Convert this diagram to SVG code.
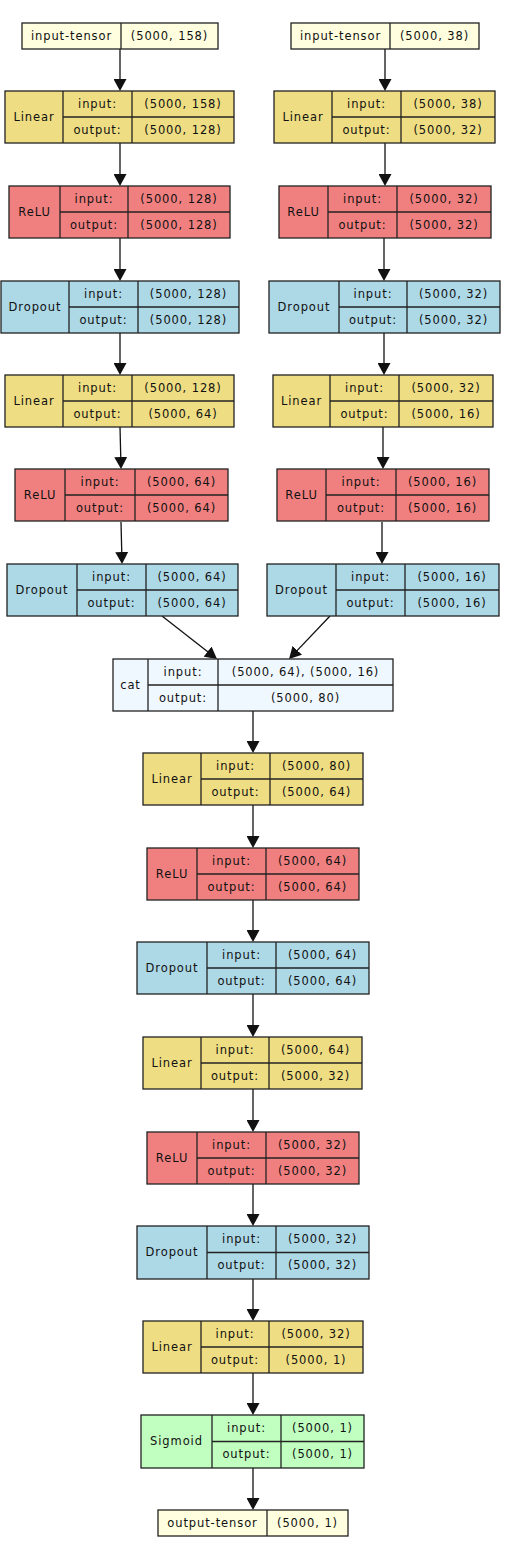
<svg xmlns="http://www.w3.org/2000/svg" width="507" height="1557" viewBox="0 0 507 1557">
<style>
rect{stroke:#222;stroke-width:1.3}
line.d{stroke:#222;stroke-width:1.3}
text{font-family:"DejaVu Sans","Verdana",sans-serif;font-size:11.5px;letter-spacing:0.9px;fill:#111;text-anchor:middle}
.lin{fill:#eedd82}.rel{fill:#f08080}.drp{fill:#add8e6}.cat{fill:#f0f8ff}.sig{fill:#c1ffc1}.ten{fill:#ffffe0}
.e{stroke:#111;stroke-width:1.3;fill:none}
</style>
<defs>
<marker id="ah" viewBox="0 0 12 13" refX="10" refY="6.5" markerWidth="12" markerHeight="13" markerUnits="userSpaceOnUse" orient="auto">
<path d="M0,0 L12,6.5 L0,13 z" fill="#111"/>
</marker>
</defs>

<g id="connectors">
<line class="e" x1="120" y1="49" x2="120" y2="89" marker-end="url(#ah)"/>
<line class="e" x1="120" y1="143" x2="120" y2="184" marker-end="url(#ah)"/>
<line class="e" x1="120" y1="238" x2="120" y2="279" marker-end="url(#ah)"/>
<line class="e" x1="120" y1="333" x2="120" y2="373" marker-end="url(#ah)"/>
<line class="e" x1="120" y1="427" x2="121" y2="467" marker-end="url(#ah)"/>
<line class="e" x1="121" y1="522" x2="122" y2="562" marker-end="url(#ah)"/>
<line class="e" x1="385" y1="49" x2="385" y2="89" marker-end="url(#ah)"/>
<line class="e" x1="385" y1="143" x2="385" y2="184" marker-end="url(#ah)"/>
<line class="e" x1="384" y1="238" x2="384" y2="279" marker-end="url(#ah)"/>
<line class="e" x1="384" y1="333" x2="384" y2="373" marker-end="url(#ah)"/>
<line class="e" x1="383" y1="427" x2="383" y2="467" marker-end="url(#ah)"/>
<line class="e" x1="382" y1="522" x2="382" y2="562" marker-end="url(#ah)"/>
<line class="e" x1="162" y1="616" x2="215.4" y2="657.8" marker-end="url(#ah)"/>
<line class="e" x1="330" y1="616" x2="290.4" y2="657.6" marker-end="url(#ah)"/>
<line class="e" x1="253" y1="711" x2="253" y2="751" marker-end="url(#ah)"/>
<line class="e" x1="253" y1="805" x2="253" y2="846" marker-end="url(#ah)"/>
<line class="e" x1="253" y1="900" x2="253" y2="940" marker-end="url(#ah)"/>
<line class="e" x1="253" y1="994" x2="253" y2="1035" marker-end="url(#ah)"/>
<line class="e" x1="253" y1="1089" x2="253" y2="1130" marker-end="url(#ah)"/>
<line class="e" x1="253" y1="1184" x2="253" y2="1224" marker-end="url(#ah)"/>
<line class="e" x1="253" y1="1279" x2="253" y2="1319" marker-end="url(#ah)"/>
<line class="e" x1="253" y1="1373" x2="253" y2="1413" marker-end="url(#ah)"/>
<line class="e" x1="253" y1="1468" x2="253" y2="1508" marker-end="url(#ah)"/>
</g>

<g id="in-tensor-left">
<rect class="ten" x="22" y="23" width="196" height="26"/>
<line class="d" x1="121" y1="23" x2="121" y2="49"/>
<text x="71.5" y="40">input-tensor</text><text x="169.5" y="40">(5000, 158)</text>
</g>
<g id="in-tensor-right">
<rect class="ten" x="291" y="23" width="188" height="26"/>
<line class="d" x1="390" y1="23" x2="390" y2="49"/>
<text x="340.5" y="40">input-tensor</text><text x="434.5" y="40">(5000, 38)</text>
</g>

<g id="linear-l1">
<rect class="lin" x="5" y="91" width="229" height="52"/>
<line class="d" x1="63" y1="91" x2="63" y2="143"/><line class="d" x1="132" y1="91" x2="132" y2="143"/><line class="d" x1="63" y1="117" x2="234" y2="117"/>
<text x="34" y="121">Linear</text><text x="97.5" y="108">input:</text><text x="183" y="108">(5000, 158)</text><text x="97.5" y="134">output:</text><text x="183" y="134">(5000, 128)</text>
</g>
<g id="relu-l1">
<rect class="rel" x="9" y="186" width="221" height="52"/>
<line class="d" x1="60" y1="186" x2="60" y2="238"/><line class="d" x1="128" y1="186" x2="128" y2="238"/><line class="d" x1="60" y1="212" x2="230" y2="212"/>
<text x="34.5" y="216">ReLU</text><text x="94" y="203">input:</text><text x="179" y="203">(5000, 128)</text><text x="94" y="229">output:</text><text x="179" y="229">(5000, 128)</text>
</g>
<g id="dropout-l1">
<rect class="drp" x="1" y="281" width="238" height="52"/>
<line class="d" x1="69" y1="281" x2="69" y2="333"/><line class="d" x1="138" y1="281" x2="138" y2="333"/><line class="d" x1="69" y1="307" x2="239" y2="307"/>
<text x="35" y="311">Dropout</text><text x="103.5" y="298">input:</text><text x="188.5" y="298">(5000, 128)</text><text x="103.5" y="324">output:</text><text x="188.5" y="324">(5000, 128)</text>
</g>
<g id="linear-l2">
<rect class="lin" x="5" y="375" width="229" height="52"/>
<line class="d" x1="63" y1="375" x2="63" y2="427"/><line class="d" x1="132" y1="375" x2="132" y2="427"/><line class="d" x1="63" y1="401" x2="234" y2="401"/>
<text x="34" y="405">Linear</text><text x="97.5" y="392">input:</text><text x="183" y="392">(5000, 128)</text><text x="97.5" y="418">output:</text><text x="183" y="418">(5000, 64)</text>
</g>
<g id="relu-l2">
<rect class="rel" x="15" y="469" width="213" height="52"/>
<line class="d" x1="65" y1="469" x2="65" y2="521"/><line class="d" x1="135" y1="469" x2="135" y2="521"/><line class="d" x1="65" y1="495" x2="228" y2="495"/>
<text x="40" y="499">ReLU</text><text x="100" y="486">input:</text><text x="181.5" y="486">(5000, 64)</text><text x="100" y="512">output:</text><text x="181.5" y="512">(5000, 64)</text>
</g>
<g id="dropout-l2">
<rect class="drp" x="7" y="564" width="231" height="52"/>
<line class="d" x1="77" y1="564" x2="77" y2="616"/><line class="d" x1="146" y1="564" x2="146" y2="616"/><line class="d" x1="77" y1="590" x2="238" y2="590"/>
<text x="42" y="594">Dropout</text><text x="111.5" y="581">input:</text><text x="192" y="581">(5000, 64)</text><text x="111.5" y="607">output:</text><text x="192" y="607">(5000, 64)</text>
</g>

<g id="linear-r1">
<rect class="lin" x="274" y="91" width="221" height="52"/>
<line class="d" x1="332" y1="91" x2="332" y2="143"/><line class="d" x1="401" y1="91" x2="401" y2="143"/><line class="d" x1="332" y1="117" x2="495" y2="117"/>
<text x="303" y="121">Linear</text><text x="366.5" y="108">input:</text><text x="448" y="108">(5000, 38)</text><text x="366.5" y="134">output:</text><text x="448" y="134">(5000, 32)</text>
</g>
<g id="relu-r1">
<rect class="rel" x="279" y="186" width="212" height="52"/>
<line class="d" x1="328" y1="186" x2="328" y2="238"/><line class="d" x1="397" y1="186" x2="397" y2="238"/><line class="d" x1="328" y1="212" x2="491" y2="212"/>
<text x="303.5" y="216">ReLU</text><text x="362.5" y="203">input:</text><text x="444" y="203">(5000, 32)</text><text x="362.5" y="229">output:</text><text x="444" y="229">(5000, 32)</text>
</g>
<g id="dropout-r1">
<rect class="drp" x="269" y="281" width="231" height="52"/>
<line class="d" x1="339" y1="281" x2="339" y2="333"/><line class="d" x1="407" y1="281" x2="407" y2="333"/><line class="d" x1="339" y1="307" x2="500" y2="307"/>
<text x="304" y="311">Dropout</text><text x="373" y="298">input:</text><text x="453.5" y="298">(5000, 32)</text><text x="373" y="324">output:</text><text x="453.5" y="324">(5000, 32)</text>
</g>
<g id="linear-r2">
<rect class="lin" x="273" y="375" width="220" height="52"/>
<line class="d" x1="330" y1="375" x2="330" y2="427"/><line class="d" x1="399" y1="375" x2="399" y2="427"/><line class="d" x1="330" y1="401" x2="493" y2="401"/>
<text x="301.5" y="405">Linear</text><text x="364.5" y="392">input:</text><text x="446" y="392">(5000, 32)</text><text x="364.5" y="418">output:</text><text x="446" y="418">(5000, 16)</text>
</g>
<g id="relu-r2">
<rect class="rel" x="277" y="469" width="212" height="52"/>
<line class="d" x1="326" y1="469" x2="326" y2="521"/><line class="d" x1="396" y1="469" x2="396" y2="521"/><line class="d" x1="326" y1="495" x2="489" y2="495"/>
<text x="301.5" y="499">ReLU</text><text x="361" y="486">input:</text><text x="442.5" y="486">(5000, 16)</text><text x="361" y="512">output:</text><text x="442.5" y="512">(5000, 16)</text>
</g>
<g id="dropout-r2">
<rect class="drp" x="267" y="564" width="232" height="52"/>
<line class="d" x1="336" y1="564" x2="336" y2="616"/><line class="d" x1="405" y1="564" x2="405" y2="616"/><line class="d" x1="336" y1="590" x2="499" y2="590"/>
<text x="301.5" y="594">Dropout</text><text x="370.5" y="581">input:</text><text x="452" y="581">(5000, 16)</text><text x="370.5" y="607">output:</text><text x="452" y="607">(5000, 16)</text>
</g>

<g id="cat">
<rect class="cat" x="113" y="659" width="280" height="52"/>
<line class="d" x1="148" y1="659" x2="148" y2="711"/><line class="d" x1="218" y1="659" x2="218" y2="711"/><line class="d" x1="148" y1="685" x2="393" y2="685"/>
<text x="130.5" y="689">cat</text><text x="183" y="676">input:</text><text x="305.5" y="676">(5000, 64), (5000, 16)</text><text x="183" y="702">output:</text><text x="305.5" y="702">(5000, 80)</text>
</g>
<g id="linear-c1">
<rect class="lin" x="143" y="753" width="220" height="52"/>
<line class="d" x1="201" y1="753" x2="201" y2="805"/><line class="d" x1="270" y1="753" x2="270" y2="805"/><line class="d" x1="201" y1="779" x2="363" y2="779"/>
<text x="172" y="783">Linear</text><text x="235.5" y="770">input:</text><text x="316.5" y="770">(5000, 80)</text><text x="235.5" y="796">output:</text><text x="316.5" y="796">(5000, 64)</text>
</g>
<g id="relu-c1">
<rect class="rel" x="147" y="848" width="212" height="52"/>
<line class="d" x1="197" y1="848" x2="197" y2="900"/><line class="d" x1="266" y1="848" x2="266" y2="900"/><line class="d" x1="197" y1="874" x2="359" y2="874"/>
<text x="172" y="878">ReLU</text><text x="231.5" y="865">input:</text><text x="312.5" y="865">(5000, 64)</text><text x="231.5" y="891">output:</text><text x="312.5" y="891">(5000, 64)</text>
</g>
<g id="dropout-c1">
<rect class="drp" x="137" y="942" width="232" height="52"/>
<line class="d" x1="207" y1="942" x2="207" y2="994"/><line class="d" x1="276" y1="942" x2="276" y2="994"/><line class="d" x1="207" y1="968" x2="369" y2="968"/>
<text x="172" y="972">Dropout</text><text x="241.5" y="959">input:</text><text x="322.5" y="959">(5000, 64)</text><text x="241.5" y="985">output:</text><text x="322.5" y="985">(5000, 64)</text>
</g>
<g id="linear-c2">
<rect class="lin" x="143" y="1037" width="219" height="52"/>
<line class="d" x1="201" y1="1037" x2="201" y2="1089"/><line class="d" x1="269" y1="1037" x2="269" y2="1089"/><line class="d" x1="201" y1="1063" x2="362" y2="1063"/>
<text x="172" y="1067">Linear</text><text x="235" y="1054">input:</text><text x="315.5" y="1054">(5000, 64)</text><text x="235" y="1080">output:</text><text x="315.5" y="1080">(5000, 32)</text>
</g>
<g id="relu-c2">
<rect class="rel" x="147" y="1132" width="212" height="52"/>
<line class="d" x1="197" y1="1132" x2="197" y2="1184"/><line class="d" x1="266" y1="1132" x2="266" y2="1184"/><line class="d" x1="197" y1="1158" x2="359" y2="1158"/>
<text x="172" y="1162">ReLU</text><text x="231.5" y="1149">input:</text><text x="312.5" y="1149">(5000, 32)</text><text x="231.5" y="1175">output:</text><text x="312.5" y="1175">(5000, 32)</text>
</g>
<g id="dropout-c2">
<rect class="drp" x="137" y="1226" width="232" height="53"/>
<line class="d" x1="207" y1="1226" x2="207" y2="1279"/><line class="d" x1="276" y1="1226" x2="276" y2="1279"/><line class="d" x1="207" y1="1252.5" x2="369" y2="1252.5"/>
<text x="172" y="1256">Dropout</text><text x="241.5" y="1243">input:</text><text x="322.5" y="1243">(5000, 32)</text><text x="241.5" y="1269">output:</text><text x="322.5" y="1269">(5000, 32)</text>
</g>
<g id="linear-c3">
<rect class="lin" x="143" y="1321" width="220" height="52"/>
<line class="d" x1="201" y1="1321" x2="201" y2="1373"/><line class="d" x1="269" y1="1321" x2="269" y2="1373"/><line class="d" x1="201" y1="1347" x2="363" y2="1347"/>
<text x="172" y="1351">Linear</text><text x="235" y="1338">input:</text><text x="316" y="1338">(5000, 32)</text><text x="235" y="1364">output:</text><text x="316" y="1364">(5000, 1)</text>
</g>
<g id="sigmoid">
<rect class="sig" x="141" y="1415" width="223" height="53"/>
<line class="d" x1="212" y1="1415" x2="212" y2="1468"/><line class="d" x1="281" y1="1415" x2="281" y2="1468"/><line class="d" x1="212" y1="1441.5" x2="364" y2="1441.5"/>
<text x="176.5" y="1445">Sigmoid</text><text x="246.5" y="1432">input:</text><text x="322.5" y="1432">(5000, 1)</text><text x="246.5" y="1458">output:</text><text x="322.5" y="1458">(5000, 1)</text>
</g>
<g id="out-tensor">
<rect class="ten" x="158" y="1510" width="190" height="26"/>
<line class="d" x1="267" y1="1510" x2="267" y2="1536"/>
<text x="212.5" y="1527">output-tensor</text><text x="307.5" y="1527">(5000, 1)</text>
</g>
</svg>
